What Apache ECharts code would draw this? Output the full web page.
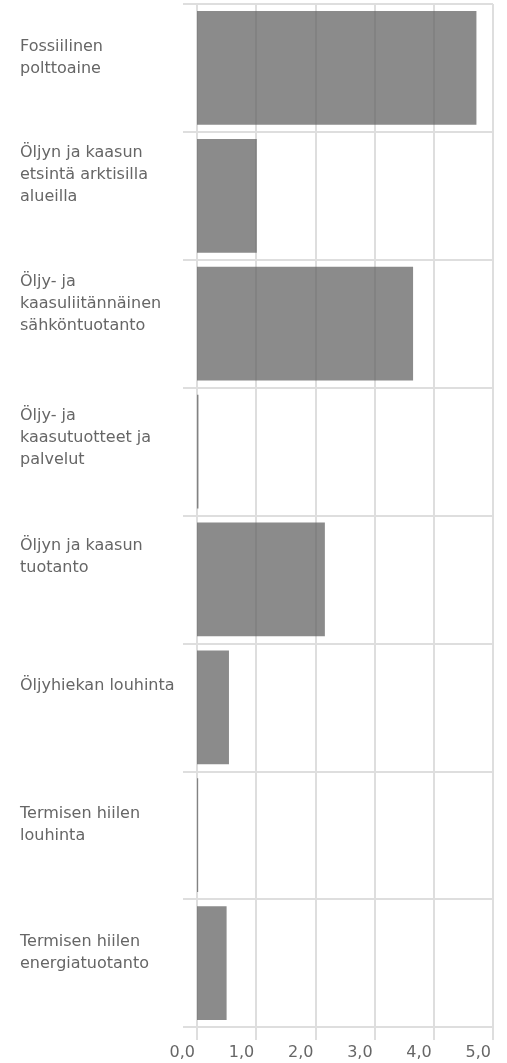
<!DOCTYPE html>
<html>
<head>
<meta charset="utf-8">
<script src="https://cdn.jsdelivr.net/npm/echarts@6/dist/echarts.min.js"></script>
<style>
html, body { margin: 0; padding: 0; background: #fff; }
#chart { width: 507px; height: 1063px; }
</style>
</head>
<body>
<div id="chart"></div>
<script>
// luokat (rivinvaihdot kuten kuvassa)
var categories = [
    'Fossiilinen\npolttoaine',
    'Öljyn ja kaasun\netsintä arktisilla\nalueilla',
    'Öljy- ja\nkaasuliitännäinen\nsähköntuotanto',
    'Öljy- ja\nkaasutuotteet ja\npalvelut',
    'Öljyn ja kaasun\ntuotanto',
    'Öljyhiekan louhinta',
    'Termisen hiilen\nlouhinta',
    'Termisen hiilen\nenergiatuotanto'
];
var values = [4.72, 1.01, 3.65, 0.025, 2.16, 0.54, 0.02, 0.50];
var xTicks = [0, 1, 2, 3, 4, 5];

// tekstin siirto ylöspäin (px) rivin keskeltä
var labelShift = [10, 21, 20, 14, 23, 21, 10, 10];

var gridColor = '#dedede';
var textColor = '#666666';
var fontName = 'DejaVu Sans';

var rich = {};
for (var i = 0; i < labelShift.length; i++) {
    rich['p' + i] = { fontSize: 1, lineHeight: labelShift[i] * 2 };
}

var myChart = echarts.init(document.getElementById('chart'));

var option = {
    animation: false,
    grid: {
        left: 197,
        right: 14,
        top: 4,
        bottom: 36,
        containLabel: false
    },
    xAxis: {
        type: 'value',
        min: xTicks[0],
        max: xTicks[xTicks.length - 1],
        interval: 1,
        axisLine: { show: false },
        axisTick: {
            show: true,
            length: 13,
            lineStyle: { color: gridColor, width: 2 }
        },
        splitLine: {
            show: true,
            lineStyle: { color: gridColor, width: 2 }
        },
        axisLabel: {
            margin: 18,
            align: 'right',
            padding: [0, 2, 0, 0],
            color: textColor,
            fontFamily: fontName,
            fontSize: 16,
            formatter: function(v) {
                return v.toFixed(1).replace('.', ',');
            }
        }
    },
    yAxis: {
        type: 'category',
        inverse: true,
        data: categories,
        axisLine: { show: false },
        axisTick: {
            show: true,
            length: 14,
            lineStyle: { color: gridColor, width: 2 }
        },
        splitLine: {
            show: true,
            lineStyle: { color: gridColor, width: 2 }
        },
        axisLabel: {
            align: 'left',
            verticalAlign: 'middle',
            margin: 177,
            color: textColor,
            fontFamily: fontName,
            fontSize: 16,
            lineHeight: 22,
            rich: rich,
            formatter: function(v, idx) {
                return v + '\n{p' + idx + '| }';
            }
        }
    },
    series: [{
        type: 'bar',
        data: values,
        barCategoryGap: '11%',
        itemStyle: {
            color: 'rgba(91,91,91,0.71)'
        }
    }]
};

myChart.setOption(option);
</script>
</body>
</html>
